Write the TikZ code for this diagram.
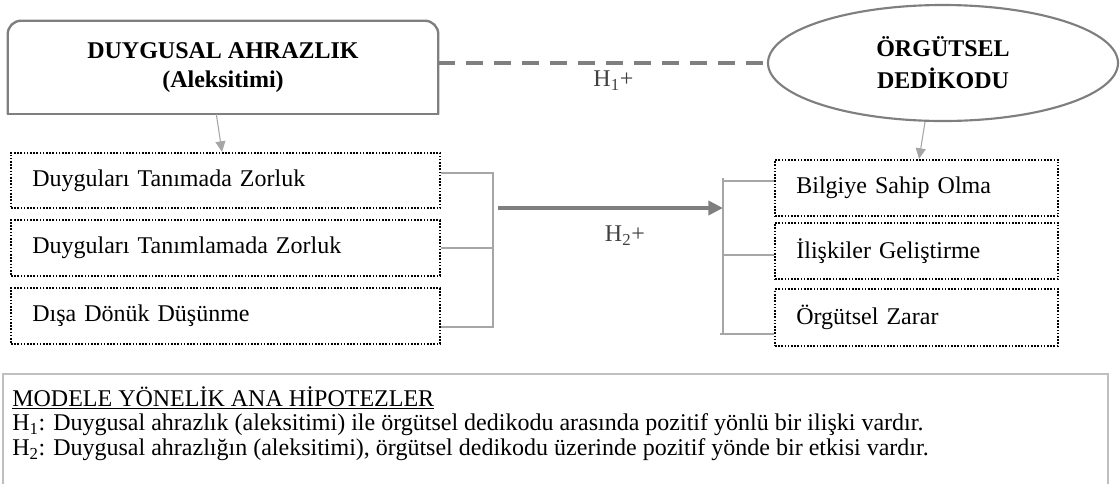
\documentclass[tikz,border=0pt]{standalone}
\usepackage{fontspec}
\setmainfont{Liberation Serif}
\usetikzlibrary{arrows.meta,shapes.geometric}
\definecolor{boxgray}{RGB}{127,127,127}
\definecolor{linegray}{RGB}{166,166,166}
\definecolor{framegray}{RGB}{191,191,191}
\definecolor{labelgray}{RGB}{64,64,64}
\tikzset{
  dimbox/.style={draw=black, line width=1.2pt, dash pattern=on 1.2pt off 1.2pt, inner xsep=16pt, align=left, font=\fontsize{18}{20}\selectfont},
  leftdim/.style={dimbox, minimum height=41.6pt, text width=289.75pt},
  rightdim/.style={dimbox, minimum height=42.4pt, text width=180.25pt},
  bracket/.style={linegray, line width=1.6pt},
  hyplabel/.style={labelgray, inner sep=1pt, font=\fontsize{18}{20}\selectfont},
  thinarrow/.style={linegray, line width=0.8pt, -{Triangle[length=8pt,width=7.5pt]}},
  h2arrow/.style={boxgray, line width=3pt, -{Triangle[length=11pt,width=10.5pt]}},
}
\begin{document}
\begin{tikzpicture}[x=0.75pt,y=0.75pt,yscale=-1]
\useasboundingbox (0,0) rectangle (1120,483);

% Text Node
\node [minimum width=322.5pt, minimum height=69.75pt, align=center, font=\bfseries\fontsize{18}{21.75}\selectfont] (aleks) at (223,67.5) {DUYGUSAL AHRAZLIK\\(Aleksitimi)};
%Shape: Rectangle, top corners rounded
\draw [boxgray, line width=1.8pt, rounded corners=10pt] (aleks.south west) -- (aleks.north west) -- (aleks.north east) -- (aleks.south east);
\draw [boxgray, line width=1.8pt, line cap=rect] (aleks.south west) -- (aleks.south east);

%Shape: Ellipse
\node [ellipse, draw=boxgray, line width=1.6pt, minimum width=262.5pt, minimum height=87pt, align=center, font=\bfseries\fontsize{18}{24}\selectfont] (dedikodu) at (943,63) {ÖRGÜTSEL\\DEDİKODU};

%Straight Lines
\draw [boxgray, line width=3pt, dash pattern=on 12.75pt off 8.25pt] (aleks.east |- dedikodu.west) -- node [hyplabel, pos=0.533, below=3.5pt] (h1) {H\textsubscript{1}+} (dedikodu.west);

% Text Node
\node [leftdim] (tanima) at (225.5,180.5) {Duyguları Tanımada Zorluk};
\node [leftdim] (tanimlama) at (225.5,248) {Duyguları Tanımlamada Zorluk};
\node [leftdim] (disa) at (225.5,316) {Dışa Dönük Düşünme};
% Text Node
\node [rightdim] (bilgi) at (916.5,188) {Bilgiye Sahip Olma};
\node [rightdim] (iliski) at (916.5,251) {İlişkiler Geliştirme};
\node [rightdim] (zarar) at (916.5,317.5) {Örgütsel Zarar};

%Straight Lines
\draw [thinarrow] ([xshift=-5pt]aleks.south) -- ([xshift=-2.6pt]tanima.north);
\draw [thinarrow] ([xshift=-13.5pt]dedikodu.south) -- ([xshift=1.9pt]bilgi.north);

%Bracket, left
\coordinate (lt) at (493,173);
\coordinate (lb) at (493,327);
\draw [bracket] (tanima.east |- lt) -- (lt) -- (lb) -- (disa.east |- lb);
\draw [bracket] (tanimlama.east) -- (tanimlama.east -| lt);
%Bracket, right
\coordinate (rt) at (723,178);
\coordinate (rm) at (723,181);
\coordinate (rb) at (723,334);
\draw [bracket] (rt) -- (rb);
\draw [bracket] (rm) -- (rm -| bilgi.west);
\draw [bracket] ([yshift=3pt]iliski.west -| rt) -- ([yshift=3pt]iliski.west);
\draw [bracket] ([xshift=-2pt]rb) -- (rb -| zarar.west);

%Straight Lines
\coordinate (h2s) at (498,208);
\draw [h2arrow] (h2s) -- node [hyplabel, pos=0.564, below=11pt] (h2) {H\textsubscript{2}+} (h2s -| rt);

%Shape: Frame
\draw [framegray, line width=1.5pt] (3,490) -- (3,374) -- (1108,374) -- (1108,490);
% Text Node
\node [anchor=north west, align=left, inner sep=0pt, font=\fontsize{18}{18.6}\selectfont] (hipotez) at (12,386) {\underline{MODELE YÖNELİK ANA HİPOTEZLER}\\
H\textsubscript{1}: Duygusal ahrazlık (aleksitimi) ile örgütsel dedikodu arasında pozitif yönlü bir ilişki vardır.\\
H\textsubscript{2}: Duygusal ahrazlığın (aleksitimi), örgütsel dedikodu üzerinde pozitif yönde bir etkisi vardır.};

\end{tikzpicture}
\end{document}
